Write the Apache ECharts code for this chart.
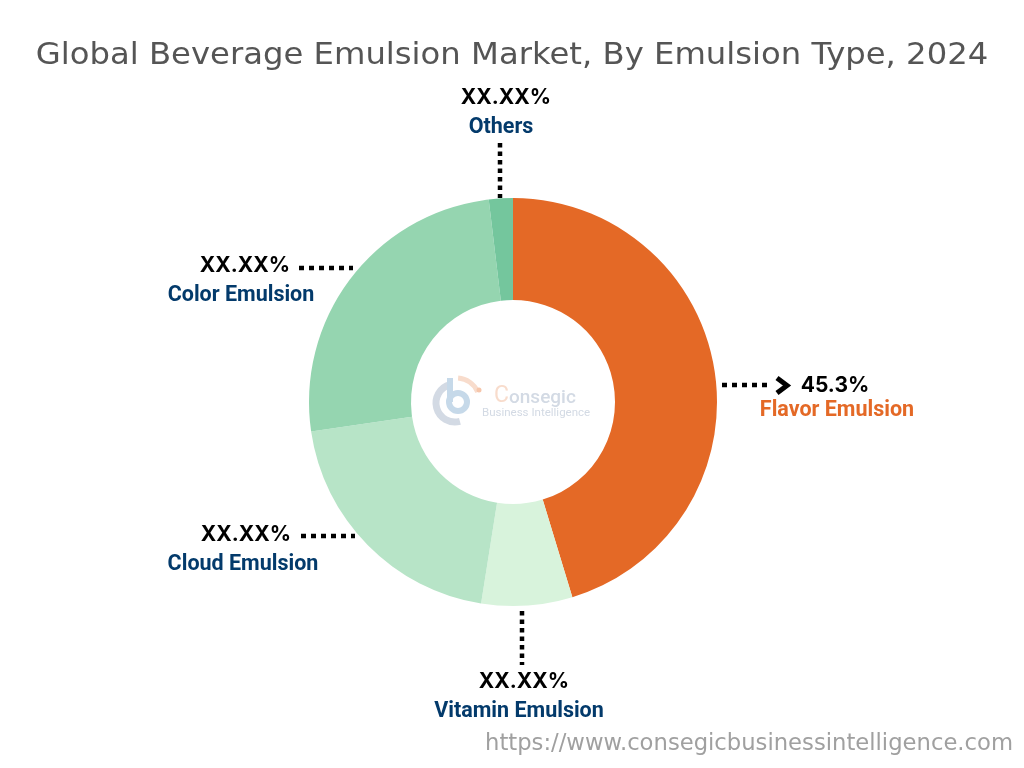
<!DOCTYPE html>
<html>
<head>
<meta charset="utf-8">
<script src="https://cdn.jsdelivr.net/npm/echarts@6/dist/echarts.min.js"></script>
<style>
html, body { margin: 0; padding: 0; background: #fff; }
#main { width: 1024px; height: 768px; }
</style>
</head>
<body>
<div id="main"></div>
<script>
var categories = ['Flavor Emulsion', 'Vitamin Emulsion', 'Cloud Emulsion', 'Color Emulsion', 'Others'];
var shares = [45.3, 7.2, 20.2, 25.4, 1.9];
var shareLabels = ['45.3%', 'XX.XX%', 'XX.XX%', 'XX.XX%', 'XX.XX%'];
var colors = ['#e46926', '#d8f3dc', '#b7e4c7', '#95d5b0', '#74c69d'];

var navy = '#033a6b';
var myChart = echarts.init(document.getElementById('main'));

function txt(x, y, text, font, fill, align, scaleX) {
    return {
        type: 'text', x: x, y: y, z: 10, scaleX: scaleX || 1,
        style: { text: text, font: font, fill: fill, align: align || 'center', verticalAlign: 'middle' }
    };
}
function dots(x1, y1, x2, y2) {
    // the vertical leaders have tighter dots than the horizontal ones
    var dash = x1 === x2 ? [4.5, 4] : [5, 5];
    return {
        type: 'line', z: 5,
        shape: { x1: x1, y1: y1, x2: x2, y2: y2 },
        style: { stroke: '#000', lineWidth: 4.5, lineDash: dash }
    };
}
function arc(cx, cy, r, a1, a2, stroke, w) {
    return {
        type: 'arc', z: 6,
        shape: { cx: cx, cy: cy, r: r, startAngle: a1 * Math.PI / 180, endAngle: a2 * Math.PI / 180, clockwise: true },
        style: { stroke: stroke, lineWidth: w, fill: null }
    };
}

var valueFont = 'bold 21px Inter, Roboto, sans-serif';
var nameFont = 'bold 21.5px Roboto, sans-serif';

var graphics = [
    txt(512, 56, 'Global Beverage Emulsion Market, By Emulsion Type, 2024', '29.5px "DejaVu Sans", sans-serif', '#555555', 'center', 1.094),

    // leader lines
    dots(500, 143, 500, 198),
    dots(299, 268, 353, 268),
    dots(301, 536, 355, 536),
    dots(522, 611, 522, 665),
    dots(722, 385, 772, 385),
    {
        type: 'polyline', z: 5,
        shape: { points: [[777, 378], [787, 385.5], [777, 393]] },
        style: { stroke: '#000', lineWidth: 5, fill: null }
    },

    // labels
    txt(835, 385.5, shareLabels[0], valueFont, '#000'),
    txt(837, 411, categories[0], nameFont, '#e46926'),
    txt(524, 682, shareLabels[1], valueFont, '#000'),
    txt(519, 712, categories[1], nameFont, navy),
    txt(246, 535, shareLabels[2], valueFont, '#000'),
    txt(243, 565, categories[2], nameFont, navy),
    txt(245, 266, shareLabels[3], valueFont, '#000'),
    txt(241, 296, categories[3], nameFont, navy),
    txt(506, 97.5, shareLabels[4], valueFont, '#000'),
    txt(501, 128, categories[4], nameFont, navy),

    // faint logo in the hole
    arc(455, 403, 19, 75, 260, '#d3dae4', 7),
    arc(458, 402, 9, 0, 360, '#c6d9e9', 6),
    { type: 'line', z: 6, shape: { x1: 450, y1: 378, x2: 450, y2: 402 }, style: { stroke: '#c6d9e9', lineWidth: 6 } },
    arc(456, 402, 24, 275, 335, '#f8dccc', 5),
    { type: 'circle', z: 6, shape: { cx: 479, cy: 390, r: 2.5 }, style: { fill: '#f6c6ab' } },
    txt(494, 396, 'C', '23px Roboto, sans-serif', '#f8dccc', 'left'),
    txt(509, 398, 'onsegic', '500 19px Roboto, sans-serif', '#d3dae4', 'left'),
    txt(482, 413, 'Business Intelligence', '11.5px Roboto, sans-serif', '#d3dae4', 'left'),

    txt(1013, 744, 'https://www.consegicbusinessintelligence.com', '22.7px "DejaVu Sans", sans-serif', '#a0a0a0', 'right')
];

var pieData = categories.map(function (name, i) {
    return { name: name, value: shares[i], itemStyle: { color: colors[i] } };
});

myChart.setOption({
    backgroundColor: '#ffffff',
    animation: false,
    graphic: graphics,
    series: [{
        type: 'pie',
        center: [513, 402],
        radius: [102, 204],
        startAngle: 90,
        label: { show: false },
        labelLine: { show: false },
        data: pieData
    }]
});
</script>
</body>
</html>
